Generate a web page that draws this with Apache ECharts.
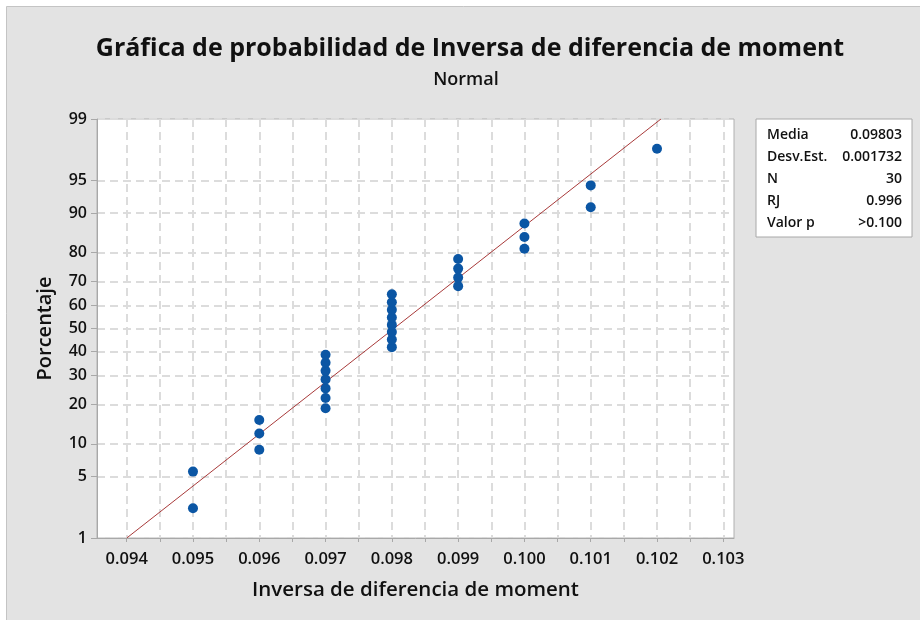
<!DOCTYPE html>
<html>
<head>
<meta charset="utf-8">
<script src="https://cdn.jsdelivr.net/npm/echarts@6/dist/echarts.min.js"></script>
<style>
html,body{margin:0;padding:0;background:#fff;}
#chart{width:920px;height:620px;}
</style>
</head>
<body>
<div id="chart"></div>
<script>
// ---- Data ----
const titleText = 'Gráfica de probabilidad de Inversa de diferencia de moment';
const subtitleText = 'Normal';
const xAxisName = 'Inversa de diferencia de moment';
const yAxisName = 'Porcentaje';

// observed values (x) and their plotted percentages (y)
const values = [0.095, 0.095,
  0.096, 0.096, 0.096,
  0.097, 0.097, 0.097, 0.097, 0.097, 0.097, 0.097,
  0.098, 0.098, 0.098, 0.098, 0.098, 0.098, 0.098, 0.098,
  0.099, 0.099, 0.099, 0.099,
  0.100, 0.100, 0.100,
  0.101, 0.101,
  0.102];
const percents = [2.3, 5.6,
  8.9, 12.2, 15.5,
  18.8, 22.0, 25.3, 28.6, 31.9, 35.2, 38.5,
  41.8, 45.1, 48.4, 51.6, 54.9, 58.2, 61.5, 64.8,
  68.1, 71.4, 74.7, 78.0,
  81.2, 84.5, 87.8,
  91.1, 94.4,
  97.7];

// fitted normal line parameters
const fitMean = 0.09803;
const fitSd = 0.001732;
const fitPercents = [1, 99];

// axis ticks
const yTickPercents = [1, 5, 10, 20, 30, 40, 50, 60, 70, 80, 90, 95, 99];
const xTickLabels = [0.094, 0.095, 0.096, 0.097, 0.098, 0.099, 0.100, 0.101, 0.102, 0.103];
const xMinorTicks = [0.094, 0.0945, 0.095, 0.0955, 0.096, 0.0965, 0.097, 0.0975, 0.098, 0.0985,
  0.099, 0.0995, 0.100, 0.1005, 0.101, 0.1015, 0.102, 0.1025, 0.103];

// statistics table
const statLabels = ['Media', 'Desv.Est.', 'N', 'RJ', 'Valor p'];
const statValues = ['0.09803', '0.001732', '30', '0.996', '>0.100'];

// ---- normal probability scale (inverse normal CDF, Acklam) ----
function normInv(p) {
  const a = [-3.969683028665376e+01, 2.209460984245205e+02, -2.759285104469687e+02, 1.383577518672690e+02, -3.066479806614716e+01, 2.506628277459239e+00];
  const b = [-5.447609879822406e+01, 1.615858368580409e+02, -1.556989798598866e+02, 6.680131188771972e+01, -1.328068155288572e+01];
  const c = [-7.784894002430293e-03, -3.223964580411365e-01, -2.400758277161838e+00, -2.549732539343734e+00, 4.374664141464968e+00, 2.938163982698783e+00];
  const d = [7.784695709041462e-03, 3.224671290700398e-01, 2.445134137142996e+00, 3.754408661907416e+00];
  const pl = 0.02425, ph = 1 - pl;
  let q, r;
  if (p < pl) {
    q = Math.sqrt(-2 * Math.log(p));
    return (((((c[0]*q+c[1])*q+c[2])*q+c[3])*q+c[4])*q+c[5]) / ((((d[0]*q+d[1])*q+d[2])*q+d[3])*q+1);
  } else if (p <= ph) {
    q = p - 0.5; r = q * q;
    return (((((a[0]*r+a[1])*r+a[2])*r+a[3])*r+a[4])*r+a[5])*q / (((((b[0]*r+b[1])*r+b[2])*r+b[3])*r+b[4])*r+1);
  } else {
    q = Math.sqrt(-2 * Math.log(1 - p));
    return -(((((c[0]*q+c[1])*q+c[2])*q+c[3])*q+c[4])*q+c[5]) / ((((d[0]*q+d[1])*q+d[2])*q+d[3])*q+1);
  }
}
const pz = pct => normInv(pct / 100);

const scatterData = values.map((v, i) => [v, pz(percents[i])]);
const lineData = fitPercents.map(p => [fitMean + pz(p) * fitSd, pz(p)]);
const yTickZ = yTickPercents.map(pz);

function zLabel(z) {
  let best = 0, bd = Infinity;
  yTickZ.forEach((t, i) => { const dd = Math.abs(t - z); if (dd < bd) { bd = dd; best = i; } });
  return String(yTickPercents[best]);
}

const FONT = '"Open Sans", "Noto Sans", sans-serif';
const chart = echarts.init(document.getElementById('chart'), null, {renderer: 'canvas'});

const gridLeft = 97, gridTop = 119, gridRight = 734, gridBottom = 538;
const xMinV = 0.094 - (126.7 - gridLeft) / 66290;
const xMaxV = 0.103 + (gridRight - 723.3) / 66290;

const tableX = 756, tableY = 119, tableW = 156, tableH = 118, rowH = 22;
const tableGraphics = [{
  type: 'rect', shape: {x: tableX, y: tableY, width: tableW, height: tableH},
  style: {fill: '#ffffff', stroke: '#a8a8a8', lineWidth: 1}, z: 10
}];
statLabels.forEach((lab, i) => {
  tableGraphics.push({
    type: 'text', x: tableX + 11, y: tableY + 16 + i * rowH, z: 11,
    style: {text: lab, fill: '#111', font: '600 14px ' + FONT, textAlign: 'left', textVerticalAlign: 'middle'}
  });
  tableGraphics.push({
    type: 'text', x: tableX + tableW - 10, y: tableY + 16 + i * rowH, z: 11,
    style: {text: statValues[i], fill: '#111', font: '600 14px ' + FONT, textAlign: 'right', textVerticalAlign: 'middle'}
  });
});

const option = {
  animation: false,
  backgroundColor: '#ffffff',
  graphic: [
    {type: 'rect', shape: {x: 6.5, y: 6.5, width: 920, height: 620}, style: {fill: '#e3e3e3', stroke: '#c4c4c4', lineWidth: 1}, z: -10},
    {type: 'text', x: 470, y: 49, style: {text: titleText, fill: '#111', font: 'bold 25px ' + FONT, textAlign: 'center', textVerticalAlign: 'middle'}},
    {type: 'text', x: 466, y: 80, style: {text: subtitleText, fill: '#111', font: '600 18px ' + FONT, textAlign: 'center', textVerticalAlign: 'middle'}}
  ].concat(tableGraphics),
  grid: {
    left: gridLeft, top: gridTop, right: 920 - gridRight, bottom: 620 - gridBottom,
    show: true, backgroundColor: '#ffffff', borderColor: '#b0b0b0', borderWidth: 1,
    containLabel: false
  },
  xAxis: {
    type: 'value', min: xMinV, max: xMaxV,
    name: xAxisName, nameLocation: 'middle', nameGap: 42,
    nameTextStyle: {fontFamily: FONT, fontSize: 20.5, fontWeight: 600, color: '#111'},
    axisLine: {show: true, onZero: false, lineStyle: {color: '#a8a8a8', width: 1}},
    axisTick: {show: true, length: 4, lineStyle: {color: '#a8a8a8'}, customValues: xMinorTicks},
    axisLabel: {customValues: xTickLabels, margin: 13, fontFamily: FONT, fontSize: 16.5, fontWeight: 600, color: '#111',
      formatter: v => v.toFixed(3)},
    splitLine: {show: true, lineStyle: {color: '#dcdcdc', width: 2, type: [8, 5]}}
  },
  yAxis: {
    type: 'value', min: pz(1), max: pz(99),
    name: yAxisName, nameLocation: 'middle', nameGap: 42, nameRotate: 90,
    nameTextStyle: {fontFamily: FONT, fontSize: 20, fontWeight: 600, color: '#111'},
    axisLine: {show: true, onZero: false, lineStyle: {color: '#a8a8a8', width: 1}},
    axisTick: {show: true, length: 6, lineStyle: {color: '#a8a8a8'}, customValues: yTickZ},
    axisLabel: {customValues: yTickZ, margin: 10, fontFamily: FONT, fontSize: 16, fontWeight: 600, color: '#111',
      formatter: v => zLabel(v)},
    splitLine: {show: true, lineStyle: {color: '#dcdcdc', width: 2, type: [8, 5]}}
  },
  series: [
    {
      type: 'line', data: lineData, symbol: 'none', silent: true,
      lineStyle: {color: '#a83a3a', width: 1}, z: 2
    },
    {
      type: 'scatter', data: scatterData, symbol: 'circle', symbolSize: 10,
      itemStyle: {color: '#0b56a4', opacity: 1}, z: 3
    }
  ]
};
chart.setOption(option);
</script>
</body>
</html>
